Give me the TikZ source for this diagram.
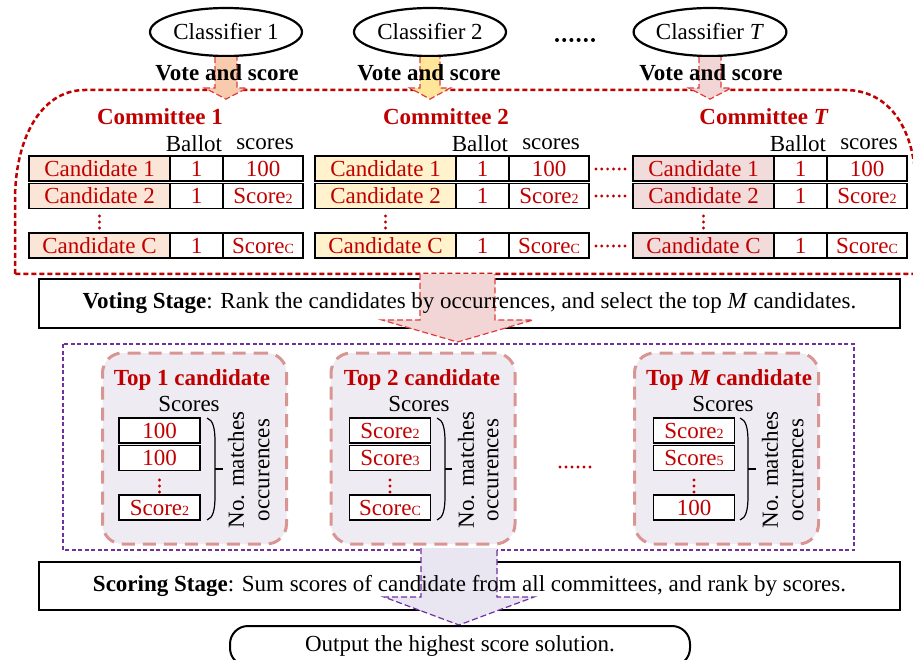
\documentclass[tikz,border=0pt]{standalone}
\usepackage{fontspec}
\setmainfont{Liberation Serif}
\usetikzlibrary{calc,shapes.geometric}
\definecolor{cred}{HTML}{C00000}
\definecolor{aline}{HTML}{E03C3C}
\definecolor{cfA}{HTML}{FBE5D6}
\definecolor{cfB}{HTML}{FFF2CC}
\definecolor{cfT}{HTML}{F2DCDB}
\definecolor{afA}{HTML}{F8CBAD}
\definecolor{afB}{HTML}{FFE699}
\definecolor{afT}{HTML}{F2D6D6}
\definecolor{cpur}{HTML}{7030A0}
\definecolor{pfill}{HTML}{EAE6F1}
\definecolor{tbfill}{HTML}{EEEBF2}
\definecolor{tbdraw}{HTML}{D99594}
\newcommand{\scr}[1]{Score{\fontsize{14}{14}\selectfont #1}}
\newcommand{\dotrow}[5]{\foreach \i in {0,...,5} \fill[#5] (#1+\i*#3,#2) circle (#4);}
\newcommand{\vdotcol}[3]{\foreach \j in {0,1,2} \fill[#3] (#1,#2+\j*6) circle (1.7pt);}
\newcommand{\blkarrow}[7]{%
 \fill[#6] ($(#1)+(-#2,0)$) -- ($(#1)+(-#2,#4)$) -- ($(#1)+(-#3,#4)$) -- ($(#1)+(0,#5)$) -- ($(#1)+(#3,#4)$) -- ($(#1)+(#2,#4)$) -- ($(#1)+(#2,0)$) -- cycle;
 \draw[#7] ($(#1)+(-#2,0)$) -- ($(#1)+(-#2,#4)$) -- ($(#1)+(-#3,#4)$) -- ($(#1)+(0,#5)$) -- ($(#1)+(#3,#4)$) -- ($(#1)+(#2,#4)$) -- ($(#1)+(#2,0)$);}
\newcommand{\comtab}[3]{%
 \node[cell,fill=#3,minimum width=141pt] (#1a1) at (#2+70.5,168.5) {Candidate 1};
 \node[cell,minimum width=53pt] (#1b1) at (#2+167.5,168.5) {1};
 \node[cell,minimum width=80pt] (#1s1) at (#2+234,168.5) {100};
 \node[cell,fill=#3,minimum width=141pt] (#1a2) at (#2+70.5,196) {Candidate 2};
 \node[cell,minimum width=53pt] (#1b2) at (#2+167.5,196) {1};
 \node[cell,minimum width=80pt] (#1s2) at (#2+234,196) {\scr{2}};
 \node[cell,fill=#3,minimum width=141pt] (#1a3) at (#2+70.5,245.5) {Candidate C};
 \node[cell,minimum width=53pt] (#1b3) at (#2+167.5,245.5) {1};
 \node[cell,minimum width=80pt] (#1s3) at (#2+234,245.5) {\scr{C}};
 \node (#1hb) at (#2+165,144) {Ballot};
 \node (#1hs) at (#2+236,144) {scores};
 \vdotcol{#2+70.5}{216}{cred}}
\begin{document}
\begin{tikzpicture}[x=1pt,y=-1pt,font=\fontsize{23}{27}\selectfont,
  cell/.style={draw=black,line width=1.3pt,minimum height=25pt,inner sep=0pt,text=cred},
  clf/.style={draw=black,ellipse,line width=2.2pt,minimum width=152pt,minimum height=48pt,inner sep=0pt},
  redtitle/.style={text=cred,font=\fontsize{23}{27}\selectfont\bfseries},
  stagebox/.style={draw=black,line width=2.4pt,fill=white,inner sep=0pt},
  arrline/.style={draw=aline,line width=1.2pt,dash pattern=on 6pt off 3pt},
  purline/.style={draw=cpur,line width=1.2pt,dash pattern=on 6pt off 3pt},
  topbox/.style={draw=tbdraw,fill=tbfill,line width=3pt,dash pattern=on 13pt off 8pt,rounded corners=20pt,minimum width=184pt,minimum height=191pt,inner sep=0pt},
  sbox/.style={draw=black,line width=1.3pt,fill=white,minimum width=81pt,minimum height=25pt,inner sep=0pt,text=cred},
  brace/.style={draw=black,line width=1.2pt}]
\useasboundingbox (0,0) rectangle (913,660);

% committee region
\draw[cred,line width=2.5pt,dash pattern=on 5pt off 3pt]
  (15,274) -- (15,200) .. controls (15,140) and (40,90) .. (85,90) -- (845,90)
  .. controls (890,90) and (916,130) .. (916,190) -- (916,274) -- cycle;

% classifiers and arrows
\node[clf] (cl1) at (226,32) {Classifier 1};
\node[clf] (cl2) at (430,32) {Classifier 2};
\node[clf] (clT) at (710,32) {Classifier \textit{T}};
\blkarrow{cl1.south}{11}{21}{31}{42}{afA}{arrline}
\blkarrow{cl2.south}{10}{20}{31}{42}{afB}{arrline}
\blkarrow{clT.south}{11}{21}{31}{42}{afT}{arrline}
\dotrow{557}{40}{7.2}{2pt}{black}
\node[font=\fontsize{23}{27}\selectfont\bfseries] (v1) at (227,73) {Vote and score};
\node[font=\fontsize{23}{27}\selectfont\bfseries] (v2) at (429,73) {Vote and score};
\node[font=\fontsize{23}{27}\selectfont\bfseries] (vT) at (711,73) {Vote and score};

\node[redtitle] (com1) at (160,117) {Committee 1};
\node[redtitle] (com2) at (446,117) {Committee 2};
\node[redtitle] (comT) at (764,117) {Committee \textit{T}};

\comtab{A}{29}{cfA}
\comtab{B}{315}{cfB}
\comtab{T}{633}{cfT}
\dotrow{596}{169}{5.8}{1.6pt}{cred}
\dotrow{596}{196}{5.8}{1.6pt}{cred}
\dotrow{596}{246}{5.8}{1.6pt}{cred}

% voting stage
\node[stagebox,minimum width=861pt,minimum height=49pt] (vote) at (469.5,303.5) {};
\coordinate (ra) at (457.5,274);
\blkarrow{ra}{37.5}{75.5}{46}{68}{afT}{arrline}
\node (votetxt) at (vote.center) {\textbf{Voting Stage}: Rank the candidates by occurrences, and select the top \textit{M} candidates.};

% top M region
\draw[cpur,line width=2.5pt,dash pattern=on 4pt off 2.5pt] (63,344) rectangle (854,550);

\node[topbox] (tb1) at (194.5,448.5) {};
\node[topbox] (tb2) at (423,448.5) {};
\node[topbox] (tbM) at (726.5,448.5) {};

\node[redtitle] (t1) at (192,380) {Top 1 candidate};
\node[redtitle] (t2) at (422,380) {Top 2 candidate};
\node[redtitle] (tM) at (729,380) {Top \textit{M} candidate};
\node (s1) at (189,404) {Scores};
\node (s2) at (419,404) {Scores};
\node (sM) at (723,404) {Scores};

\node[sbox] (a1) at (159.5,430.5) {100};
\node[sbox] (a2) at (159.5,458) {100};
\node[sbox] (a3) at (159.5,507.5) {\scr{2}};
\vdotcol{159.5}{480}{cred}
\node[sbox] (b1) at (390,430.5) {\scr{2}};
\node[sbox] (b2) at (390,458) {\scr{3}};
\node[sbox] (b3) at (390,507.5) {\scr{C}};
\vdotcol{390}{480}{cred}
\node[sbox] (m1) at (694,430.5) {\scr{2}};
\node[sbox] (m2) at (694,458) {\scr{5}};
\node[sbox] (m3) at (694,507.5) {100};
\vdotcol{694}{480}{cred}

\draw[brace] (207,418) .. controls (213,420) and (215,428) .. (215,442) -- (215,496) .. controls (215,510) and (213,518) .. (207,520);
\draw[brace] (215,469) -- (223,469);
\draw[brace] (437,418) .. controls (443,420) and (445,428) .. (445,442) -- (445,496) .. controls (445,510) and (443,518) .. (437,520);
\draw[brace] (445,469) -- (452,469);
\draw[brace] (740,418) .. controls (746,420) and (748,428) .. (748,442) -- (748,496) .. controls (748,510) and (746,518) .. (740,520);
\draw[brace] (748,469) -- (756,469);

\node[rotate=90] (n1a) at (236,470) {No. matches};
\node[rotate=90] (n1b) at (264,470) {occurences};
\node[rotate=90] (n2a) at (466,470) {No. matches};
\node[rotate=90] (n2b) at (493,470) {occurences};
\node[rotate=90] (nMa) at (770,470) {No. matches};
\node[rotate=90] (nMb) at (798,470) {occurences};

\dotrow{560}{467}{6}{1.6pt}{cred}

% scoring stage
\node[stagebox,minimum width=861pt,minimum height=48pt] (score) at (469.5,586) {};
\coordinate (pa) at (459,548);
\blkarrow{pa}{38}{75}{49}{77}{pfill}{purline}
\node (scoretxt) at (score.center) {\textbf{Scoring Stage}: Sum scores of candidate from all committees, and rank by scores.};

\node[draw=black,line width=2pt,rounded corners=18pt,minimum width=460pt,minimum height=40pt,inner sep=0pt] (out) at (460,646) {Output the highest score solution.};
\end{tikzpicture}
\end{document}
